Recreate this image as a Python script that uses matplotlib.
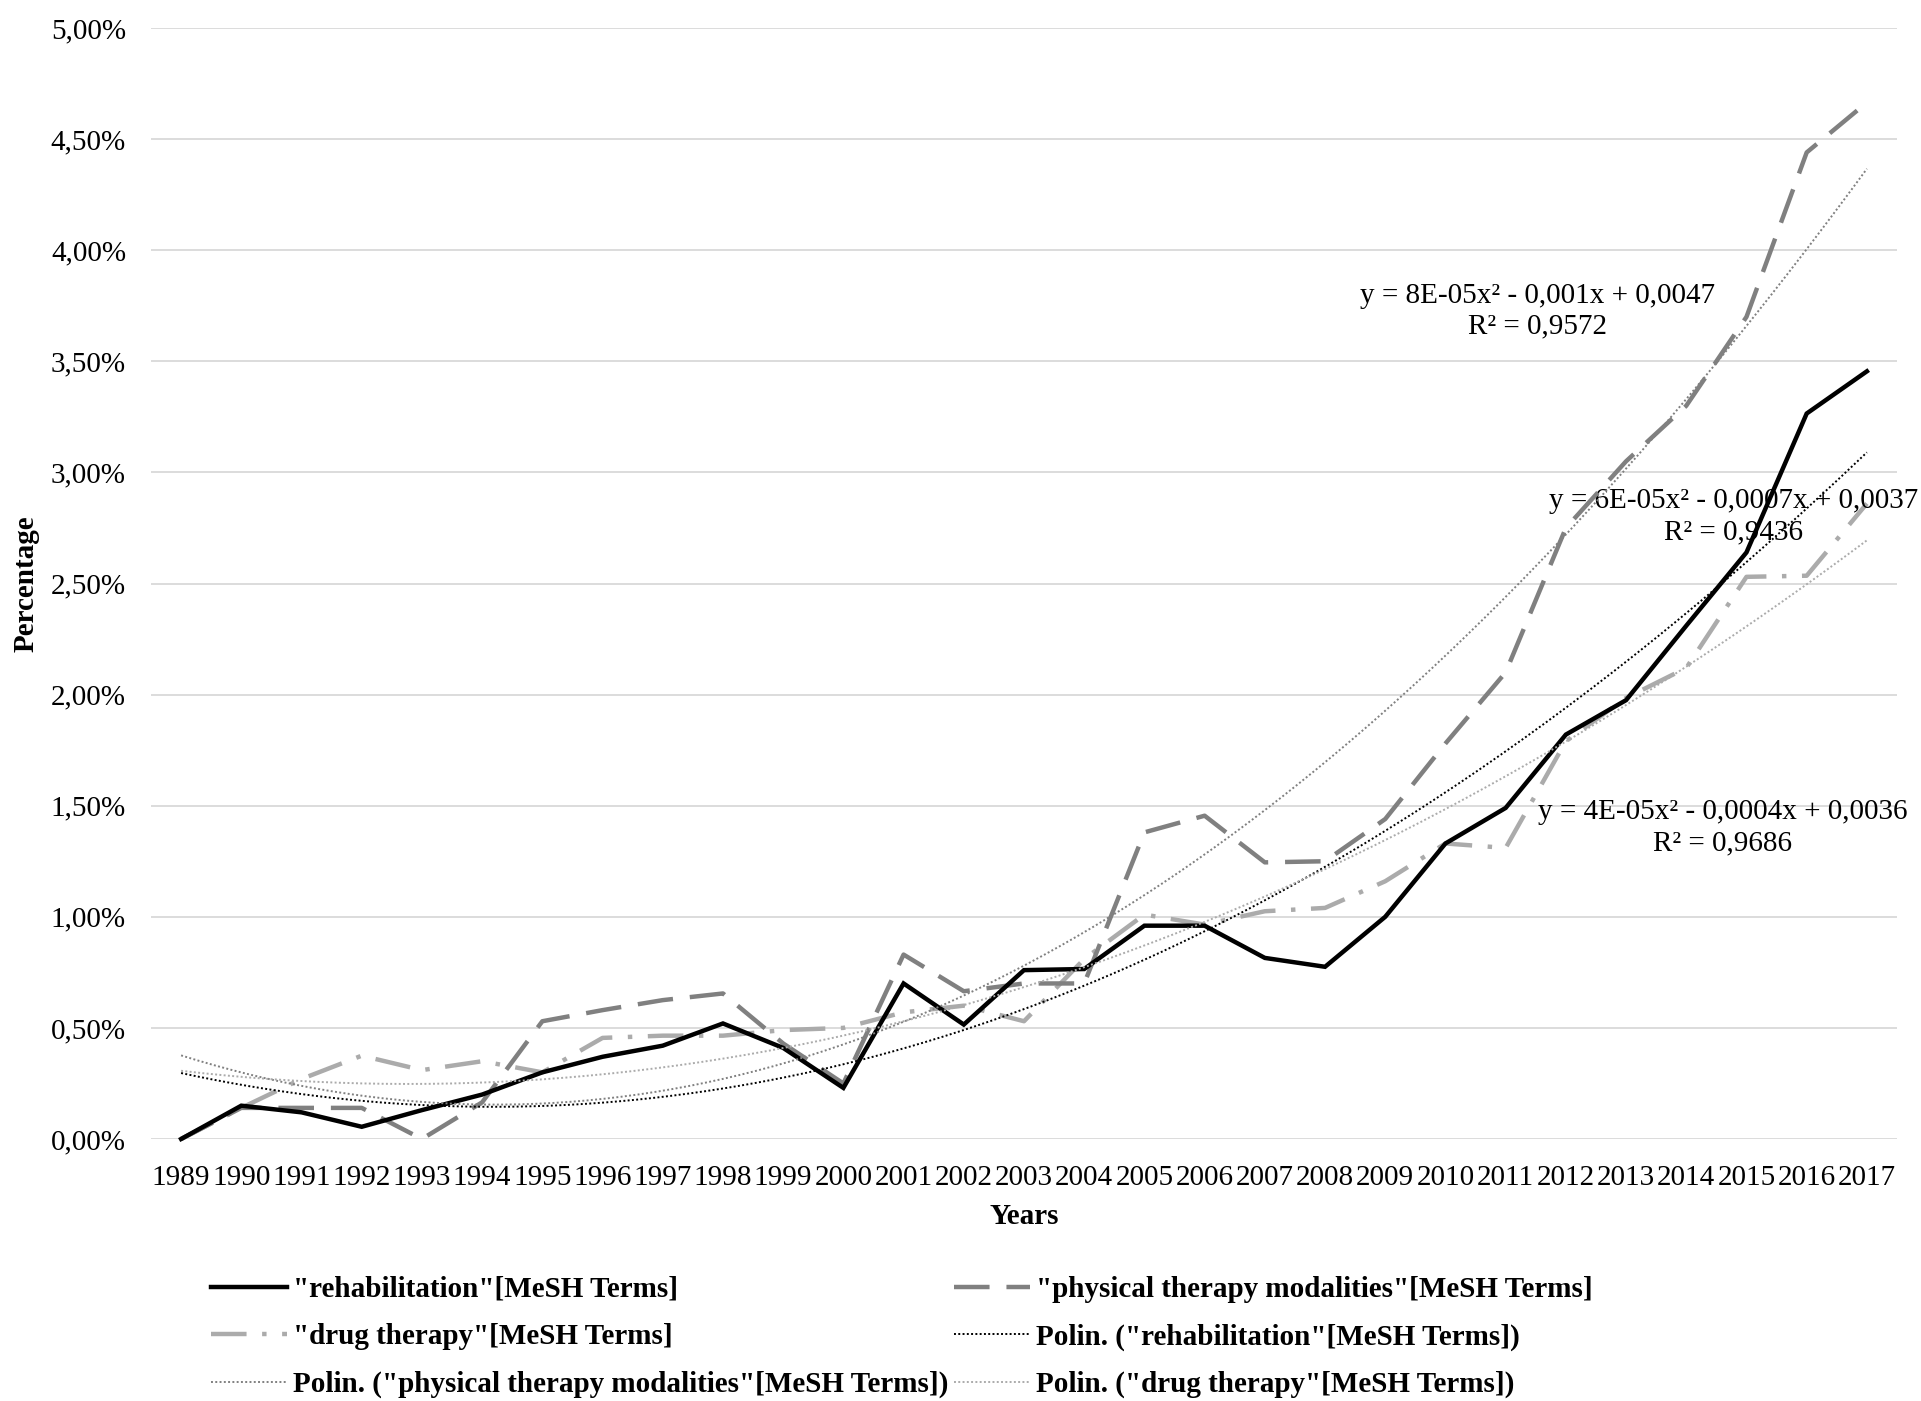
import matplotlib.pyplot as plt
import numpy as np
from matplotlib.ticker import FuncFormatter

# Share of publications per year (percent)
years = list(range(1989, 2018))
rehabilitation = [0.00, 0.15, 0.12, 0.055, 0.13, 0.20, 0.30, 0.37, 0.42, 0.52,
                  0.41, 0.23, 0.70, 0.515, 0.76, 0.765, 0.96, 0.96, 0.815, 0.775,
                  1.00, 1.33, 1.49, 1.82, 1.975, 2.31, 2.64, 3.265, 3.455]
physical = [0.00, 0.14, 0.14, 0.14, 0.00, 0.165, 0.53, 0.58, 0.625, 0.655,
            0.43, 0.25, 0.83, 0.665, 0.70, 0.70, 1.38, 1.455, 1.245, 1.25,
            1.44, 1.78, 2.10, 2.75, 3.05, 3.30, 3.70, 4.44, 4.665]
drug = [0.00, 0.14, 0.27, 0.375, 0.31, 0.35, 0.30, 0.455, 0.465, 0.465,
        0.49, 0.50, 0.57, 0.60, 0.53, 0.81, 1.01, 0.965, 1.025, 1.04,
        1.16, 1.33, 1.31, 1.79, 1.985, 2.12, 2.53, 2.535, 2.86]

labels = ['"rehabilitation"[MeSH Terms]',
          '"physical therapy modalities"[MeSH Terms]',
          '"drug therapy"[MeSH Terms]',
          'Polin. ("rehabilitation"[MeSH Terms])',
          'Polin. ("physical therapy modalities"[MeSH Terms])',
          'Polin. ("drug therapy"[MeSH Terms])']

equations = ["y = 8E-05x² - 0,001x + 0,0047\nR² = 0,9572",
             "y = 6E-05x² - 0,0007x + 0,0037\nR² = 0,9436",
             "y = 4E-05x² - 0,0004x + 0,0036\nR² = 0,9686"]

plt.rcParams['font.family'] = ['Liberation Serif', 'DejaVu Serif']
plt.rcParams['font.size'] = 21

fig = plt.figure(figsize=(19.21, 14.01), dpi=100)
ax = fig.add_axes([151 / 1921, 1 - 1139 / 1401, 1746 / 1921, 1111 / 1401])

x = np.arange(len(years))

# second-order polynomial trend lines, fitted on 1..n like a spreadsheet does
xs = x + 1
trend = {}
for key, vals in (("reh", rehabilitation), ("phy", physical), ("drug", drug)):
    c = np.polyfit(xs, np.array(vals), 2)
    trend[key] = np.polyval(c, np.linspace(1, len(years), 300))
xt = np.linspace(0, len(years) - 1, 300)

h0, = ax.plot(x, rehabilitation, color="black", lw=3.2, solid_joinstyle="miter", clip_on=False, zorder=5)
h1, = ax.plot(x, physical, color="#808080", lw=3.2, dashes=(8, 3.8), clip_on=False, zorder=4)
h2, = ax.plot(x, drug, color="#ABABAB", lw=3.2, dashes=(8, 3.5, 1, 3.5), clip_on=False, zorder=3)
h3, = ax.plot(xt, trend["reh"], color="black", lw=1.4, linestyle=(0, (1, 1.2)), zorder=6)
h4, = ax.plot(xt, trend["phy"], color="#808080", lw=1.4, linestyle=(0, (1, 1.2)), zorder=6)
h5, = ax.plot(xt, trend["drug"], color="#ABABAB", lw=1.4, linestyle=(0, (1, 1.2)), zorder=6)

ax.set_xlim(-0.5, len(years) - 0.5)
ax.set_ylim(0, 5)
ax.set_yticks(np.arange(0, 5.01, 0.5))
ax.yaxis.set_major_formatter(FuncFormatter(lambda v, p: f"{v:.2f}%".replace(".", ",")))
ax.set_xticks(x)
ax.set_xticklabels([str(y) for y in years])
ax.tick_params(length=0, labelsize=21)
ax.tick_params(axis="x", pad=19)
ax.tick_params(axis="y", pad=18)
ax.grid(axis="y", color="#D9D9D9", lw=1.3)
ax.set_axisbelow(True)
for s in ax.spines.values():
    s.set_visible(False)

ax.set_xlabel("Years", fontweight="bold", fontsize=21, labelpad=8)
ax.set_ylabel("Percentage", fontweight="bold", fontsize=21, labelpad=8)

# equations of the trend lines
ax.text(22.53, 3.725, equations[0], ha="center", va="center", fontsize=21, linespacing=1.25)
ax.text(25.78, 2.80, equations[1], ha="center", va="center", fontsize=21, linespacing=1.25)
ax.text(25.60, 1.40, equations[2], ha="center", va="center", fontsize=21, linespacing=1.25)

handles = [h0, h2, h4, h1, h3, h5]
order = [0, 2, 4, 1, 3, 5]
fig.legend(handles, [labels[i] for i in order], loc="upper left",
           bbox_to_anchor=(211 / 1921, 1 - 1276 / 1401), ncol=2, frameon=False,
           borderpad=0, borderaxespad=0, handlelength=2.6, handletextpad=0.2,
           columnspacing=0.2, labelspacing=0.7,
           prop={"weight": "bold", "size": 21})

fig.savefig("out.png", dpi=100)
